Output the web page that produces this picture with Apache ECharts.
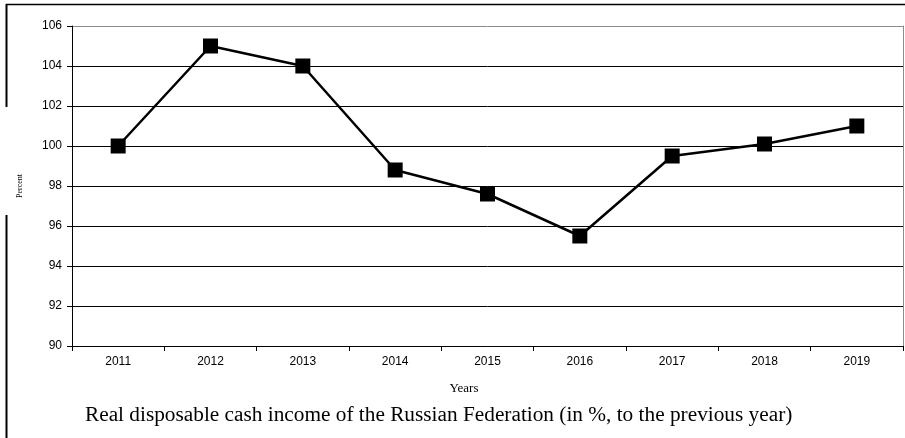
<!DOCTYPE html>
<html>
<head>
<meta charset="utf-8">
<script src="https://cdn.jsdelivr.net/npm/echarts@6/dist/echarts.min.js"></script>
<style>
  html, body { margin: 0; padding: 0; background: #fff; }
  #chart { width: 905px; height: 438px; }
</style>
</head>
<body>
<div id="chart"></div>
<script>
// Real disposable cash income, % to the previous year
const years = ['2011', '2012', '2013', '2014', '2015', '2016', '2017', '2018', '2019'];
const incomePct = [100.0, 105.0, 104.0, 98.8, 97.6, 95.5, 99.5, 100.1, 101.0];

const yMin = 90;
const yMax = 106;
const yStep = 2;

const titleText = 'Real disposable cash income of the Russian Federation (in %, to the previous year)';
const xName = 'Years';
const yName = 'Percent';

// one colour per horizontal grid line, the top one lighter like a frame edge
const gridColors = [];
for (let v = yMin; v <= yMax; v += yStep) gridColors.push(v === yMax ? '#8c8c8c' : '#000');

const chart = echarts.init(document.getElementById('chart'), null, { renderer: 'canvas' });

chart.setOption({
  backgroundColor: '#fff',
  animation: false,
  title: {
    text: titleText,
    left: 85,
    top: 405,
    padding: 0,
    textStyle: { fontFamily: 'Liberation Serif', fontSize: 21.3, fontWeight: 'normal', color: '#000' }
  },
  grid: { left: 72, right: 2, top: 26, bottom: 92, containLabel: false },
  xAxis: {
    type: 'category',
    data: years,
    boundaryGap: true,
    name: xName,
    nameLocation: 'middle',
    nameGap: 36,
    nameTextStyle: { fontFamily: 'Liberation Serif', fontSize: 13, color: '#000', padding: [0, 47, 0, 0] },
    axisLine: { lineStyle: { color: '#000', width: 1 } },
    axisTick: { show: true, alignWithLabel: false, length: 5, lineStyle: { color: '#000' } },
    axisLabel: { fontFamily: 'Liberation Sans', fontSize: 12, color: '#000', margin: 10 },
    splitLine: { show: false }
  },
  yAxis: [
    {
      type: 'value',
      min: yMin,
      max: yMax,
      interval: yStep,
      name: yName,
      nameLocation: 'middle',
      nameGap: 48,
      nameRotate: 90,
      nameTextStyle: { fontFamily: 'Liberation Serif', fontSize: 8, color: '#000' },
      axisLine: { show: true, lineStyle: { color: '#000', width: 1 } },
      axisTick: { show: true, length: 5, lineStyle: { color: '#000' } },
      axisLabel: { fontFamily: 'Liberation Sans', fontSize: 12, color: '#000', margin: 10 },
      splitLine: { show: true, lineStyle: { color: gridColors, width: 1 } }
    },
    {
      // plain right edge of the plot frame
      type: 'value',
      position: 'right',
      min: yMin,
      max: yMax,
      interval: yStep,
      axisLine: { show: true, lineStyle: { color: '#8c8c8c', width: 1 } },
      axisTick: { show: false },
      axisLabel: { show: false },
      splitLine: { show: false }
    }
  ],
  series: [
    {
      type: 'line',
      data: incomePct,
      yAxisIndex: 0,
      symbol: 'rect',
      symbolSize: 15,
      lineStyle: { color: '#000', width: 2.5 },
      itemStyle: { color: '#000' },
      z: 5
    }
  ],
  graphic: [
    // outer page frame: top edge and left edge (interrupted around the axis name)
    { type: 'line', shape: { x1: 6, y1: 4.5, x2: 905, y2: 4.5 }, style: { stroke: '#000', lineWidth: 1.5 }, silent: true },
    { type: 'line', shape: { x1: 6.5, y1: 4, x2: 6.5, y2: 107 }, style: { stroke: '#000', lineWidth: 2 }, silent: true },
    { type: 'line', shape: { x1: 6.5, y1: 215, x2: 6.5, y2: 438 }, style: { stroke: '#000', lineWidth: 2 }, silent: true }
  ]
});
</script>
</body>
</html>
